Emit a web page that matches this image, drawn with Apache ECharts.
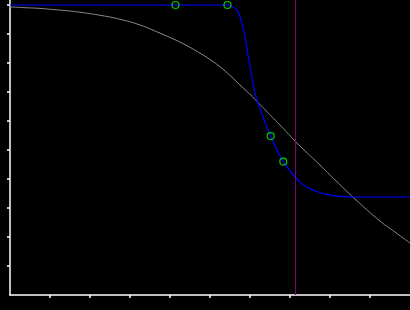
<!DOCTYPE html>
<html>
<head>
<meta charset="utf-8">
<script src="https://cdn.jsdelivr.net/npm/echarts@6/dist/echarts.min.js"></script>
<style>html,body{margin:0;padding:0;background:#000;}#c{width:410px;height:310px;}</style>
</head>
<body>
<div id="c"></div>
<script>
// gray smooth curve (x, y)
var grayX = [-0.25, 0, 0.325, 0.775, 1.1, 1.375, 1.8, 2.275, 2.775, 3.25, 3.75, 4.0, 4.25, 4.5, 4.75, 5.0, 5.25, 5.5, 5.75, 6.0, 6.2, 6.375, 6.75, 7.125, 7.375, 7.75, 8.125, 8.625, 9.25, 9.625, 10];
var grayY = [9.93, 9.93, 9.91, 9.88, 9.84, 9.81, 9.74, 9.64, 9.5, 9.31, 9.03, 8.88, 8.72, 8.54, 8.34, 8.12, 7.87, 7.57, 7.24, 6.92, 6.64, 6.39, 5.86, 5.31, 4.97, 4.48, 3.97, 3.31, 2.55, 2.17, 1.79];
// blue steep curve
var blueX = [0, 4.1375, 5.4375, 5.55, 5.65, 5.725, 5.775, 5.825, 5.875, 5.95, 6.0, 6.075, 6.125, 6.2, 6.3, 6.4, 6.5175, 6.675, 6.8325, 7.0, 7.175, 7.375, 7.625, 7.875, 8.25, 8.625, 10];
var blueY = [10, 10, 10, 9.95, 9.86, 9.69, 9.48, 9.21, 8.9, 8.28, 7.9, 7.31, 6.97, 6.62, 6.24, 5.86, 5.48, 5.0, 4.6, 4.28, 4.0, 3.76, 3.59, 3.48, 3.4, 3.38, 3.38];
// green markers
var markX = [4.1375, 5.4375, 6.5175, 6.8325];
var markY = [10, 10, 5.48, 4.6];
// vertical reference line
var vLineX = 7.125;
var xTicks = [1, 2, 3, 4, 5, 6, 7, 8, 9];
var yTicks = [1, 2, 3, 4, 5, 6, 7, 8, 9, 10];

function zip(a, b) { return a.map(function (v, i) { return [v, b[i]]; }); }

var chart = echarts.init(document.getElementById('c'), null, { renderer: 'canvas' });
chart.setOption({
  backgroundColor: '#000',
  animation: false,
  grid: { left: 10, right: 0, top: 0, bottom: 15, containLabel: false },
  xAxis: {
    type: 'value', min: 0, max: 10, interval: 1,
    splitLine: { show: false },
    axisLine: { show: true, lineStyle: { color: '#fff', width: 1.5 } },
    axisTick: { show: true, length: 3, inside: false, customValues: xTicks, lineStyle: { color: '#fff', width: 1.5 } },
    axisLabel: { show: false }
  },
  yAxis: {
    type: 'value', min: 0, max: 295 / 29, interval: 1,
    splitLine: { show: false },
    axisLine: { show: true, onZero: false, lineStyle: { color: '#fff', width: 1.5 } },
    axisTick: { show: true, length: 3, inside: false, customValues: yTicks, lineStyle: { color: '#fff', width: 1.5 } },
    axisLabel: { show: false }
  },
  series: [
    {
      type: 'line', data: zip(grayX, grayY), smooth: true, showSymbol: false, clip: false,
      lineStyle: { color: '#8a8a8a', width: 1 }, z: 2,
      markLine: {
        silent: true, symbol: 'none', label: { show: false },
        lineStyle: { color: '#800080', width: 1, type: 'solid' },
        data: [{ xAxis: vLineX }]
      }
    },
    {
      type: 'line', data: zip(blueX, blueY), smooth: true, showSymbol: false,
      lineStyle: { color: '#0000ff', width: 1.2 }, z: 3
    },
    {
      type: 'scatter', data: zip(markX, markY), symbol: 'circle', symbolSize: 7,
      itemStyle: { color: 'rgba(0,0,0,0)', borderColor: '#00ff00', borderWidth: 1.2 }, z: 4
    }
  ]
});
</script>
</body>
</html>
